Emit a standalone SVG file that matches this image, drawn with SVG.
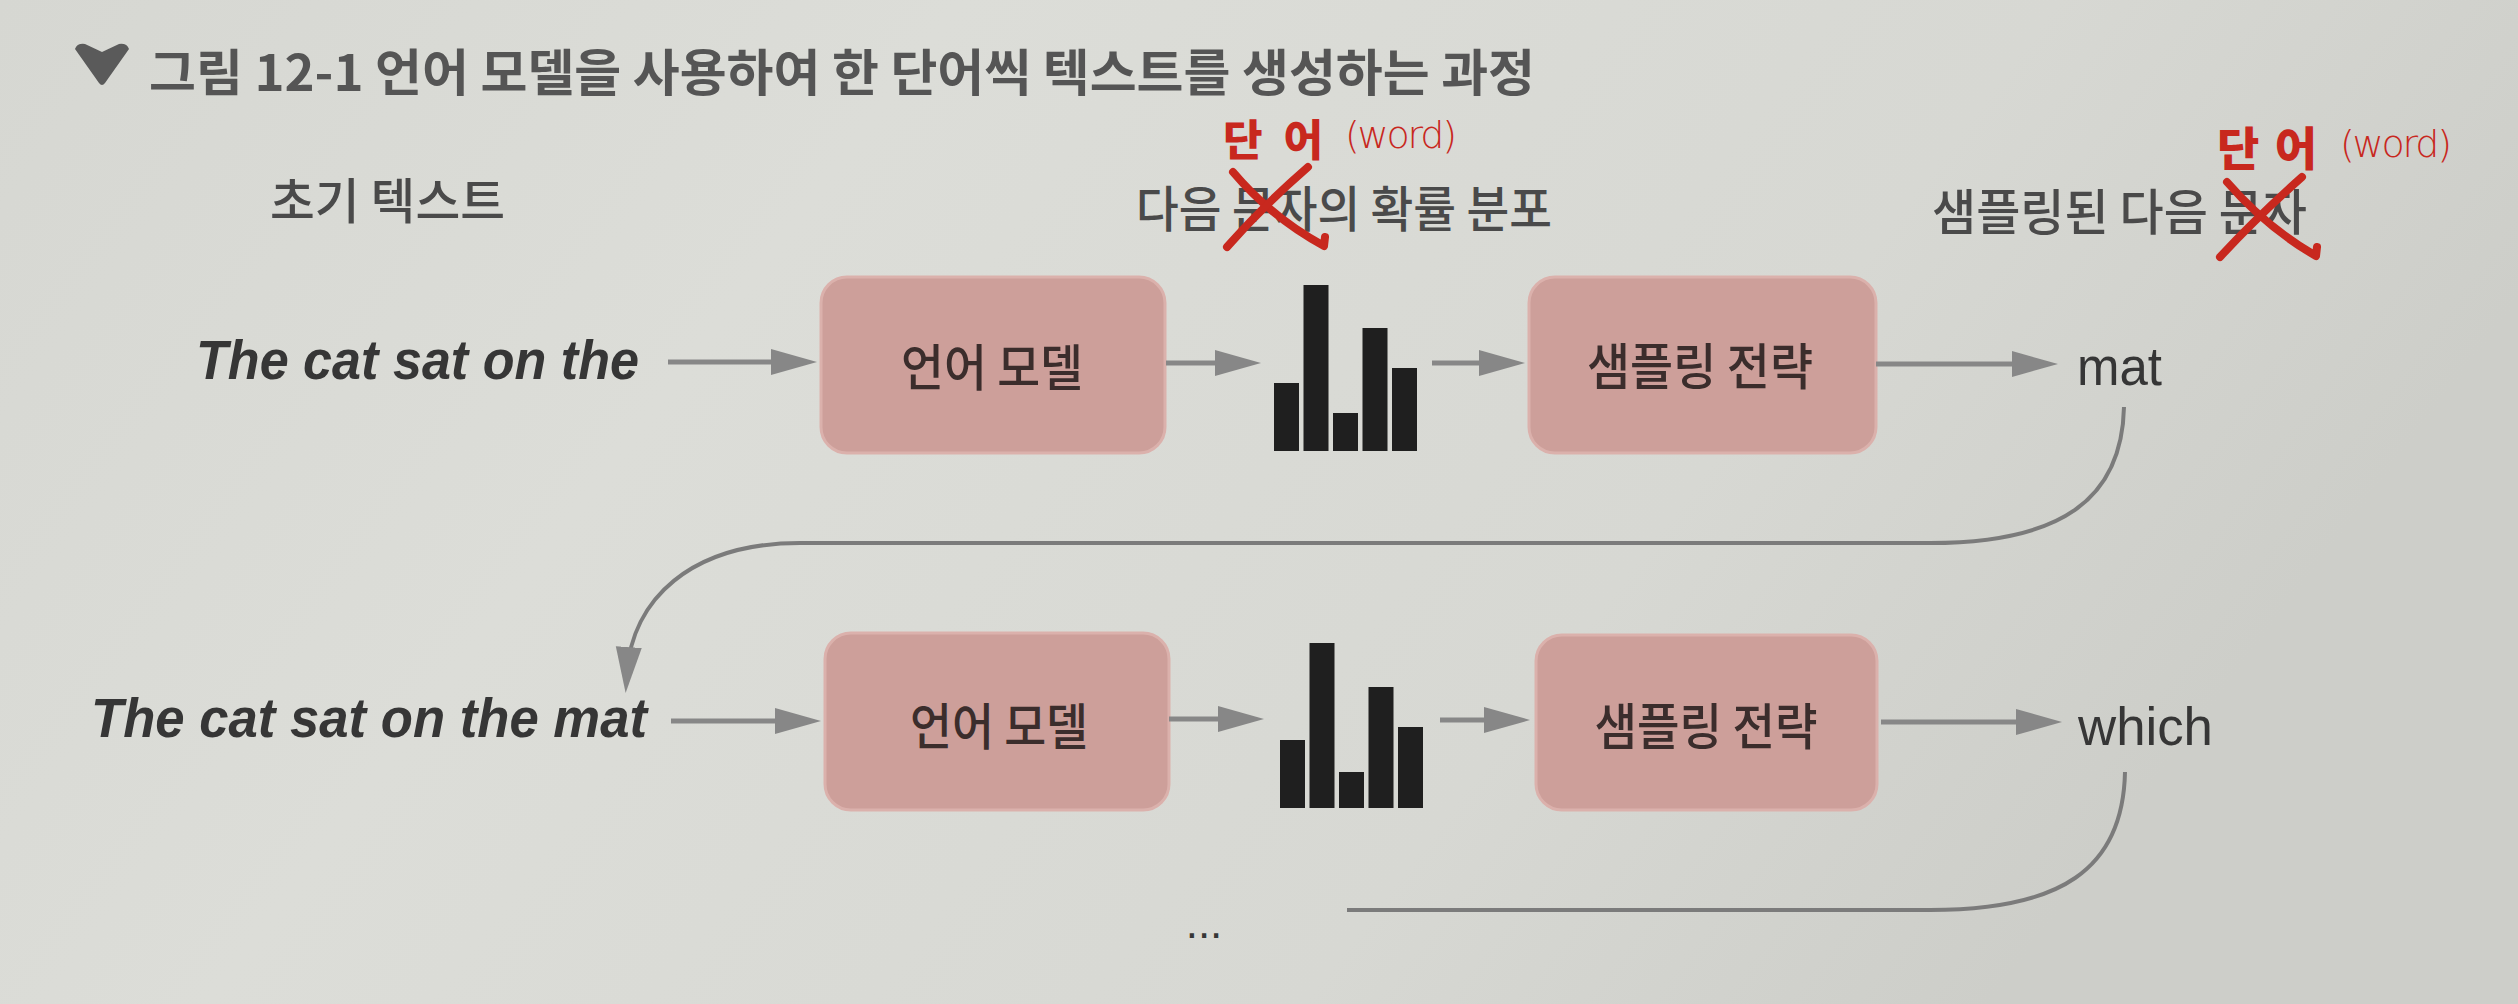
<svg xmlns="http://www.w3.org/2000/svg" width="2518" height="1004" viewBox="0 0 2518 1004">
  <defs>
    <linearGradient id="paper" x1="0" y1="0" x2="1" y2="0.3">
      <stop offset="0" stop-color="#d6d7d2"/>
      <stop offset="0.35" stop-color="#dcddd8"/>
      <stop offset="0.75" stop-color="#d7d8d3"/>
      <stop offset="1" stop-color="#cdcec9"/>
    </linearGradient>
    <marker id="ah" markerUnits="userSpaceOnUse" markerWidth="48" markerHeight="28" refX="26" refY="13" orient="auto">
      <path d="M0,0 L46,13 L0,26 Z" fill="#878787"/>
    </marker>
    <style>
      .ko { font-family: "Noto Sans CJK KR", "Noto Sans", sans-serif; }
      .lbl { font-size: 49px; font-weight: 500; fill: #4a4a4a; }
      .title { font-size: 50px; font-weight: 700; fill: #555555; }
      .boxtxt { font-size: 50px; font-weight: 500; fill: #3b2d2c; text-anchor: middle; }
      .en { font-family: "Liberation Sans", Arial, sans-serif; fill: #363636; }
      .it { font-size: 55px; font-weight: 700; font-style: italic; }
      .out { font-size: 53px; font-weight: 400; }
      .box { fill: #cd9f9a; stroke: #dbb1ac; stroke-width: 3; }
      .bar { fill: #1f1f1f; }
      .arr { stroke: #878787; stroke-width: 5; fill: none; marker-end: url(#ah); }
      .loop { stroke: #7b7b7b; stroke-width: 4; fill: none; }
      .red { fill: #c8281e; }
      .redk { font-family: "Noto Sans CJK KR", sans-serif; font-weight: 900; }
      .redw { font-family: "DejaVu Sans", sans-serif; font-size: 38px; font-weight: 200; }
      .xs { stroke: #c8281e; stroke-width: 8; fill: none; stroke-linecap: round; stroke-linejoin: round; }
    </style>
  </defs>

  <rect x="0" y="0" width="2518" height="1004" fill="url(#paper)"/>

  <g id="title">
    <path d="M75,49 Q77,43 85,44 L102,52 L119,44 Q127,43 129,49 L105,83 Q102,87 99,83 Z" fill="#5a5a5a"/>
    <text class="ko title" x="149" y="91" textLength="1386" lengthAdjust="spacingAndGlyphs">그림 12-1 언어 모델을 사용하여 한 단어씩 텍스트를 생성하는 과정</text>
  </g>

  <g id="header-labels">
    <text class="ko lbl" x="270" y="219" textLength="235" lengthAdjust="spacingAndGlyphs">초기 텍스트</text>
    <text class="ko lbl" x="1136" y="227" textLength="416" lengthAdjust="spacingAndGlyphs">다음 문자의 확률 분포</text>
    <text class="ko lbl" x="1932" y="230" textLength="375" lengthAdjust="spacingAndGlyphs">샘플링된 다음 문자</text>
  </g>

  <g id="annotations">
    <text class="red redk" x="1223" y="156" font-size="43" textLength="100" lengthAdjust="spacing">단어</text>
    <text class="red redw" x="1345" y="148" textLength="112" lengthAdjust="spacing">(word)</text>
    <path class="xs" d="M1233,172 Q1272,218 1324,246 L1325,237"/>
    <path class="xs" d="M1308,167 Q1262,207 1227,247"/>
    <text class="red redk" x="2217" y="165" font-size="46" textLength="100" lengthAdjust="spacing">단어</text>
    <text class="red redw" x="2340" y="157" textLength="112" lengthAdjust="spacing">(word)</text>
    <path class="xs" d="M2227,182 Q2266,227 2316,256 L2317,247"/>
    <path class="xs" d="M2302,177 Q2257,217 2220,257"/>
  </g>

  <g id="input1">
    <text class="en it" x="196" y="379" textLength="443" lengthAdjust="spacingAndGlyphs">The cat sat on the</text>
  </g>
  <g id="lm1">
    <rect class="box" x="821" y="277" width="344" height="176" rx="26"/>
    <text class="ko boxtxt" x="992" y="386" textLength="182" lengthAdjust="spacingAndGlyphs">언어 모델</text>
  </g>
  <g id="dist1">
    <rect class="bar" x="1274" y="383" width="25" height="68"/>
    <rect class="bar" x="1303.5" y="285" width="25" height="166"/>
    <rect class="bar" x="1333" y="413" width="25" height="38"/>
    <rect class="bar" x="1362.5" y="328" width="25" height="123"/>
    <rect class="bar" x="1392" y="368" width="25" height="83"/>
  </g>
  <g id="sampler1">
    <rect class="box" x="1529" y="277" width="347" height="176" rx="26"/>
    <text class="ko boxtxt" x="1700" y="385" textLength="226" lengthAdjust="spacingAndGlyphs">샘플링 전략</text>
  </g>
  <g id="output1">
    <text class="en out" x="2077" y="385" textLength="85" lengthAdjust="spacingAndGlyphs">mat</text>
  </g>

  <g id="input2">
    <text class="en it" x="91" y="737" textLength="556" lengthAdjust="spacingAndGlyphs">The cat sat on the mat</text>
  </g>
  <g id="lm2">
    <rect class="box" x="825" y="633" width="344" height="177" rx="26"/>
    <text class="ko boxtxt" x="999" y="745" textLength="178" lengthAdjust="spacingAndGlyphs">언어 모델</text>
  </g>
  <g id="dist2">
    <rect class="bar" x="1280" y="740" width="25" height="68"/>
    <rect class="bar" x="1309.5" y="643" width="25" height="165"/>
    <rect class="bar" x="1339" y="772" width="25" height="36"/>
    <rect class="bar" x="1368.5" y="687" width="25" height="121"/>
    <rect class="bar" x="1398" y="727" width="25" height="81"/>
  </g>
  <g id="sampler2">
    <rect class="box" x="1536" y="635" width="341" height="175" rx="26"/>
    <text class="ko boxtxt" x="1706" y="745" textLength="223" lengthAdjust="spacingAndGlyphs">샘플링 전략</text>
  </g>
  <g id="output2">
    <text class="en out" x="2078" y="745" textLength="135" lengthAdjust="spacingAndGlyphs">which</text>
  </g>
  <g id="ellipsis">
    <text class="en" x="1204" y="938" font-size="44" text-anchor="middle">...</text>
  </g>

  <g id="connectors">
    <line class="arr" x1="668" y1="362" x2="797" y2="362"/>
    <line class="arr" x1="1166" y1="363" x2="1241" y2="363"/>
    <line class="arr" x1="1432" y1="363" x2="1505" y2="363"/>
    <line class="arr" x1="1876" y1="364" x2="2038" y2="364"/>
    <line class="arr" x1="671" y1="721" x2="801" y2="721"/>
    <line class="arr" x1="1169" y1="719" x2="1244" y2="719"/>
    <line class="arr" x1="1440" y1="720" x2="1510" y2="720"/>
    <line class="arr" x1="1881" y1="722" x2="2042" y2="722"/>
    <path class="loop" d="M2124,407 C2122,500 2060,543 1930,543 L800,543 C690,543 632,600 627,673" marker-end="url(#ah)"/>
    <path class="loop" d="M2125,772 C2123,870 2060,910 1930,910 L1347,910"/>
  </g>
</svg>
